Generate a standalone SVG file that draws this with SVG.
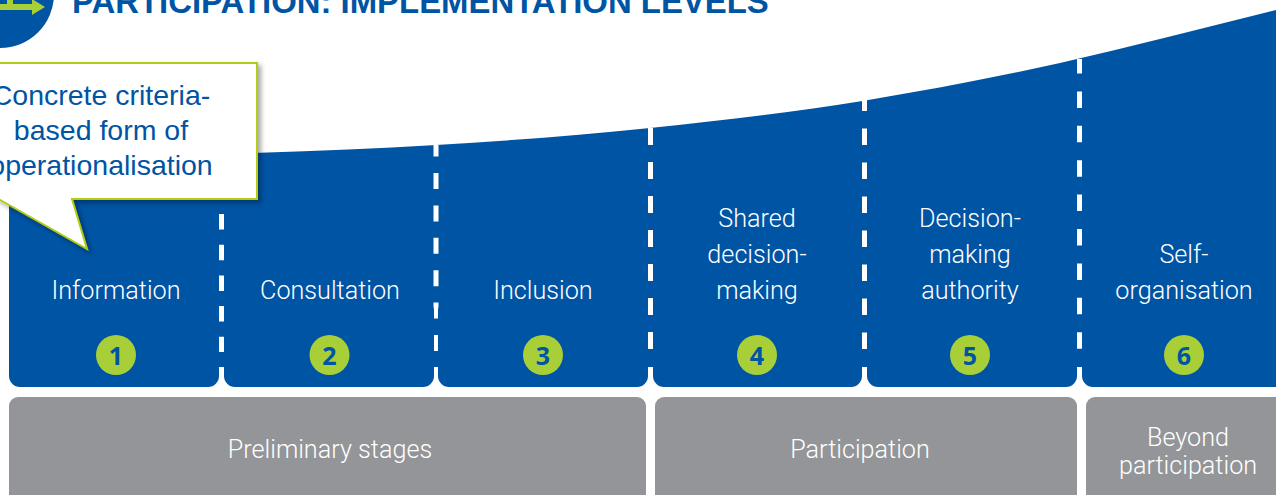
<svg xmlns="http://www.w3.org/2000/svg" width="1276" height="495" viewBox="0 0 1276 495">
<style>
.blue{fill:#0054a4}
.gray{fill:#939598}
.lab{font-family:Roboto,"Liberation Sans",sans-serif;font-size:25.200px;font-weight:300;fill:#fff;text-anchor:middle}
.num{font-family:"Open Sans","Liberation Sans",sans-serif;font-size:25px;font-weight:700;fill:#0054a4;text-anchor:middle}
.badge{fill:#a8cf38}
.dash{stroke:#fff;stroke-width:5;fill:none}
.call{font-family:"Liberation Sans",sans-serif;font-size:28.500px;fill:#0054a4;text-anchor:middle}
</style>
<defs><filter id="sh" x="-20%" y="-20%" width="140%" height="140%"><feDropShadow dx="3" dy="3" stdDeviation="2.500" flood-color="#000" flood-opacity="0.35"/></filter></defs>
<g id="header">
<circle class="blue" cx="0" cy="-6" r="54"/>
<path d="M7 -2H13V4H32V-1L45 7L32 15V10H0V4H7Z" fill="#a8cf38"/>
<text x="72" y="13" font-family="Liberation Sans,sans-serif" font-size="32.900" font-weight="700" fill="#0054a4">PARTICIPATION: IMPLEMENTATION LEVELS</text>
</g>
<path id="band" class="blue" d="M9 155L260 152.700C318.700 150.900 377.300 148.500 436 145C507.300 140.700 578.700 135.500 650 128C721.300 120.500 792.700 112.500 864 100.700C929.300 89.900 994.700 77.700 1060 63C1132 46.800 1204 27.600 1276 10V367H9Z"/>
<g id="connectors">
<path class="dash" stroke-dasharray="15.500 15.200" d="M221.500 214V352"/>
<path class="dash" stroke-dasharray="16 16.400" stroke-dashoffset="4.400" d="M436 145V351"/>
<path class="dash" stroke-dasharray="17 17" d="M650.500 128V349"/>
<path class="dash" stroke-dasharray="16.500 17.500" stroke-dashoffset="5.500" d="M864.500 100V349"/>
<path class="dash" stroke-dasharray="16.500 17.900" stroke-dashoffset="2" d="M1079.500 59V350"/>
</g>
<g id="node-1"><rect class="blue" x="9" y="300" width="210" height="87" rx="11"/><text class="lab" x="116" y="298.500">Information</text><circle class="badge" cx="116" cy="355" r="20"/><text class="num" x="116" y="365">1</text></g>
<g id="node-2"><rect class="blue" x="224" y="300" width="210" height="87" rx="11"/><text class="lab" x="330" y="298.500">Consultation</text><circle class="badge" cx="329.500" cy="355" r="20"/><text class="num" x="329.500" y="365">2</text></g>
<g id="node-3"><rect class="blue" x="438" y="300" width="210" height="87" rx="11"/><text class="lab" x="543" y="298.500">Inclusion</text><circle class="badge" cx="543" cy="355" r="20"/><text class="num" x="543" y="365">3</text></g>
<g id="node-4"><rect class="blue" x="653" y="300" width="209" height="87" rx="11"/><text class="lab"><tspan x="757" y="226.500">Shared</tspan><tspan x="757" y="262.500">decision-</tspan><tspan x="757" y="298.500">making</tspan></text><circle class="badge" cx="757" cy="355" r="20"/><text class="num" x="757" y="365">4</text></g>
<g id="node-5"><rect class="blue" x="867" y="300" width="210" height="87" rx="11"/><text class="lab"><tspan x="970" y="226.500">Decision-</tspan><tspan x="970" y="262.500">making</tspan><tspan x="970" y="298.500">authority</tspan></text><circle class="badge" cx="970" cy="355" r="20"/><text class="num" x="970" y="365">5</text></g>
<g id="node-6"><rect class="blue" x="1082" y="300" width="220" height="87" rx="11"/><text class="lab"><tspan x="1184" y="262.500">Self-</tspan><tspan x="1184" y="298.500">organisation</tspan></text><circle class="badge" cx="1184" cy="355" r="20"/><text class="num" x="1184" y="365">6</text></g>
<g id="stage-preliminary"><rect class="gray" x="9" y="397" width="637" height="110" rx="9"/><text class="lab" x="330" y="457.500">Preliminary stages</text></g>
<g id="stage-participation"><rect class="gray" x="655" y="397" width="422" height="110" rx="9"/><text class="lab" x="860" y="457.500">Participation</text></g>
<g id="stage-beyond"><rect class="gray" x="1086" y="397" width="210" height="110" rx="9"/><text class="lab"><tspan x="1188" y="445.500">Beyond</tspan><tspan x="1188" y="473.500">participation</tspan></text></g>
<g id="callout">
<path d="M-5 63H257V199H72L87 249L-5 197Z" fill="#fff" stroke="#b5cc18" stroke-width="2" filter="url(#sh)"/>
<text class="call"><tspan x="101" y="105">Concrete criteria-</tspan><tspan x="101" y="140">based form of</tspan><tspan x="101" y="175">operationalisation</tspan></text>
</g>
</svg>
